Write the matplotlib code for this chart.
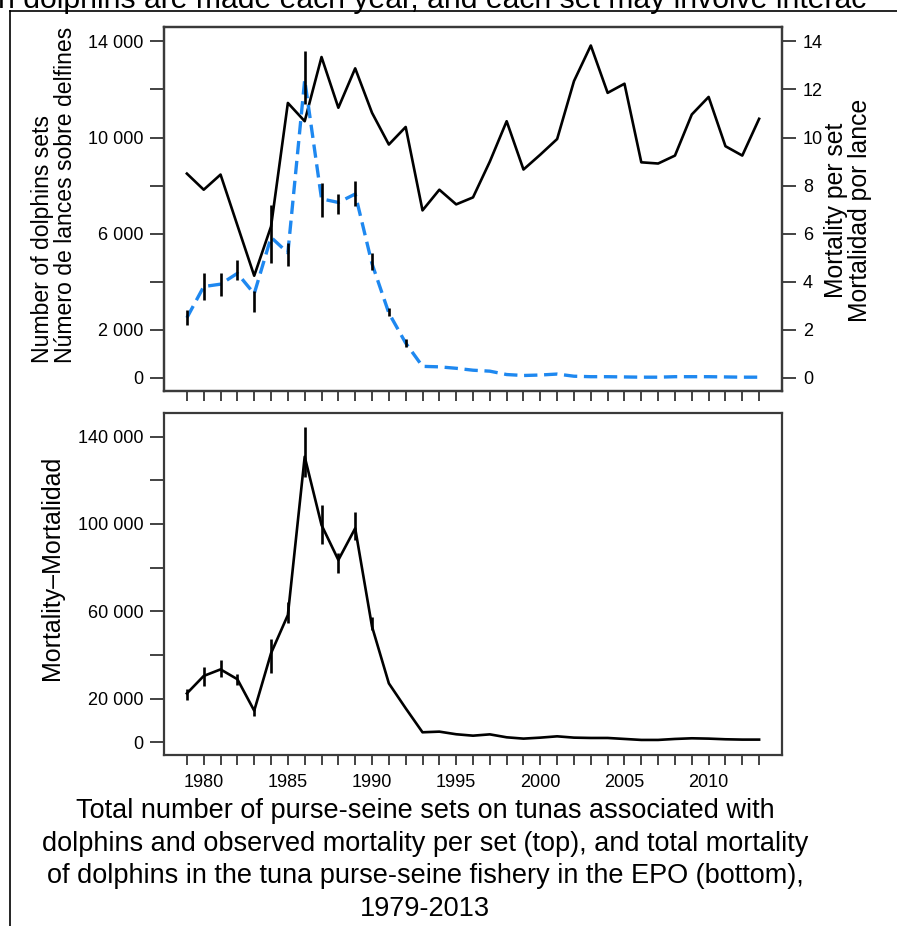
import matplotlib
matplotlib.use("Agg")
import matplotlib.pyplot as plt
from matplotlib.lines import Line2D
import numpy as np

plt.rcParams['font.family'] = ['Liberation Sans', 'DejaVu Sans']

years = list(range(1979, 2014))
sets = [8500, 7830, 8460, 6350, 4250, 6300, 11440, 10680, 13350, 11240, 12880, 11030,
        9710, 10440, 6970, 7830, 7220,
        7510, 9000, 10680, 8670, 9290, 9940, 12350, 13830, 11860, 12240, 8970, 8920,
        9250, 10960, 11690, 9640, 9250, 10780]
mort_per_set = [2.5, 3.8, 3.9, 4.35, 3.5, 5.85, 5.2, 12.4, 7.45, 7.3, 7.65, 4.75, 2.7, 1.45,
                0.48, 0.46, 0.40, 0.32, 0.28, 0.14, 0.10, 0.12, 0.16, 0.07, 0.05, 0.05,
                0.04, 0.03, 0.03, 0.05, 0.05, 0.05, 0.04, 0.03, 0.03]
mps_err_years = list(range(1979, 1993))
mps_lo = [2.22, 3.23, 3.42, 4.09, 2.73, 4.8, 4.67, 11.4, 6.7, 6.83, 7.14, 4.5, 2.56, 1.3]
mps_hi = [2.84, 4.37, 4.37, 4.92, 3.6, 7.2, 5.6, 13.6, 8.1, 7.66, 8.18, 5.2, 2.9, 1.6]

mortality = [22400, 30400, 33400, 28900, 14500, 40800, 58300, 130800, 99500, 83500, 98000,
             53000, 27000, 15600, 4600, 4900, 3700,
             3050, 3650, 2300, 1700, 2150, 2750, 2150, 2000, 2000, 1550, 1100, 1100, 1550,
             1850, 1700, 1400, 1250, 1250]
mort_err_years = list(range(1979, 1991))
mort_lo = [19400, 25800, 29800, 26300, 12100, 31600, 54500, 121700, 90800, 77400, 92700, 51450]
mort_hi = [24300, 34700, 37700, 31300, 15600, 47200, 64400, 144600, 108700, 86600, 105600, 57600]

top_ticks = [0, 2000, 4000, 6000, 8000, 10000, 12000, 14000]
top_labels = ["0", "2 000", "", "6 000", "", "10 000", "", "14 000"]
right_ticks = [0, 2, 4, 6, 8, 10, 12, 14]
bot_ticks = [0, 20000, 40000, 60000, 80000, 100000, 120000, 140000]
bot_labels = ["0", "20 000", "", "60 000", "", "100 000", "", "140 000"]
year_labels = [1980, 1985, 1990, 1995, 2000, 2005, 2010]

W, H = 897, 926
fig = plt.figure(figsize=(W / 100, H / 100), dpi=100)

def frac(l, t, r, b):
    return [l / W, 1 - b / H, (r - l) / W, (b - t) / H]

FS = 13
frame_col = '#3a3a3a'
xlim = (1977.64, 2014.36)

ax1 = fig.add_axes(frac(164, 27, 782, 391))
ax2 = fig.add_axes(frac(164, 413, 782, 755))

for ax in (ax1, ax2):
    for s in ax.spines.values():
        s.set_color(frame_col)
        s.set_linewidth(1.6)
    ax.set_xlim(*xlim)
    ax.set_xticks(years)
    ax.tick_params(axis='x', direction='out', length=7, width=1.2, color='#222222',
                   labelsize=FS, pad=7)
    ax.tick_params(axis='y', direction='out', length=10, width=1.2, color='#222222',
                   labelsize=FS, pad=5)

# top panel
ax1.plot(years, sets, color='black', lw=1.9, zorder=3)
ax1.set_ylim(-545, 14600)
ax1.set_yticks(top_ticks)
ax1.set_yticklabels(top_labels)
ax1.set_xticklabels([])

axr = ax1.twinx()
axr.set_ylim(-0.545, 14.6)
axr.set_yticks(right_ticks)
axr.set_yticklabels([str(v) for v in right_ticks])
axr.tick_params(axis='y', direction='out', length=10, width=1.2, color='#222222',
                labelsize=FS, pad=5)
for s in axr.spines.values():
    s.set_color(frame_col)
    s.set_linewidth(1.6)
axr.plot(years, mort_per_set, color='#1E88F0', lw=2.4, ls=(0, (4, 2)), zorder=2)
axr.vlines(mps_err_years, mps_lo, mps_hi, color='black', lw=1.9, zorder=4)

# bottom panel
ax2.plot(years, mortality, color='black', lw=1.9, zorder=3)
ax2.vlines(mort_err_years, mort_lo, mort_hi, color='black', lw=1.9, zorder=4)
ax2.set_ylim(-5800, 150800)
ax2.set_yticks(bot_ticks)
ax2.set_yticklabels(bot_labels)
ax2.set_xticklabels([str(y) if y in year_labels else "" for y in years])

# axis labels
fig.text(53.5 / W, 1 - 363 / H, "Number of dolphins sets\nNúmero de lances sobre delfines",
         rotation=90, ha='center', va='bottom', multialignment='left', fontsize=16.6,
         linespacing=1.0)
fig.text(848 / W, 1 - 210 / H, "Mortality per set\nMortalidad por lance",
         rotation=90, ha='center', va='center', multialignment='center', fontsize=17.8,
         linespacing=1.0)
fig.text(52.5 / W, 1 - 567.5 / H, "Mortality–Mortalidad", rotation=90, ha='center',
         va='center', fontsize=18)

# caption
caption = ("Total number of purse-seine sets on tunas associated with\n"
           "dolphins and observed mortality per set (top), and total mortality\n"
           "of dolphins in the tuna purse-seine fishery in the EPO (bottom),\n"
           "1979-2013")
fig.text(425 / W, 1 - 798 / H, caption, ha='center', va='top', fontsize=19.5,
         linespacing=1.33)

# cropped text of the page at the top
fig.text(-2 / W, 1 - 7.5 / H, "n dolphins are made each year, and each set may involve interac",
         ha='left', va='baseline', fontsize=21.7)

# page frame lines
fig.add_artist(Line2D([10 / W, 1], [1 - 11 / H, 1 - 11 / H], color='black', lw=1.2,
                      transform=fig.transFigure))
fig.add_artist(Line2D([10 / W, 10 / W], [1 - 11 / H, 0], color='black', lw=1.2,
                      transform=fig.transFigure))

fig.savefig("out.png", dpi=100)
